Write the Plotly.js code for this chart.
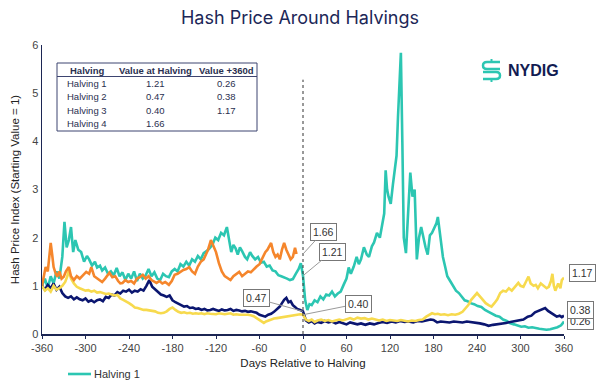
<!DOCTYPE html>
<html>
<head>
<meta charset="utf-8">
<script src="https://cdn.plot.ly/plotly-3.0.1.min.js"></script>
<style>html,body{margin:0;padding:0;background:#fff}#chart{width:600px;height:383px}</style>
</head>
<body>
<div id="chart"></div>
<script>
// ---------- DATA ----------
const seriesNames = ['Halving 1', 'Halving 2', 'Halving 3', 'Halving 4'];

const h1Days = [-360,-356,-352,-348,-344,-340,-336,-332,-329,-326,-323,-320,-317,-314,-310,-306,-302,-298,-295,-291,-287,-284,-280,-277,-273,-269,-265,-261,-257,-253,-249,-245,-241,-237,-233,-229,-225,-221,-217,-213,-209,-205,-201,-197,-193,-189,-185,-181,-177,-173,-169,-165,-161,-157,-153,-149,-145,-141,-137,-133,-129,-125,-121,-117,-113,-109,-105,-102,-99,-96,-93,-90,-87,-84,-80,-77,-73,-70,-66,-62,-58,-54,-50,-46,-42,-38,-34,-30,-26,-22,-18,-14,-10,-6,-3,0,3,6,9,12,16,20,24,28,32,36,40,44,48,52,56,60,63,66,70,74,77,80,84,88,91,95,98,102,106,110,112,114,116,118,121,124,127,129,131,133,135,137,139,142,145,148,151,154,157,160,163,166,169,172,175,178,181,184,186,188,190,193,196,199,203,207,211,215,219,223,227,231,236,241,246,251,256,261,266,271,276,281,286,291,296,301,306,311,316,321,326,331,336,341,346,351,356,360];
const h1Vals = [1.0,1.15,0.95,1.2,1.05,1.3,1.15,1.6,2.33,1.8,1.95,2.22,1.7,1.95,1.75,1.7,1.5,1.62,1.55,1.42,1.5,1.38,1.42,1.32,1.38,1.25,1.3,1.22,1.37,1.2,1.28,1.12,1.25,1.15,1.3,1.1,1.25,1.15,1.22,1.35,1.2,1.28,1.15,1.12,1.25,1.2,1.18,1.3,1.35,1.3,1.45,1.4,1.5,1.42,1.55,1.5,1.62,1.55,1.68,1.72,1.78,1.85,2.0,1.95,2.1,2.05,2.22,1.95,1.7,1.85,1.78,1.65,1.8,1.72,1.6,1.55,1.7,1.62,1.55,1.6,1.48,1.5,1.4,1.42,1.32,1.3,1.22,1.2,1.18,1.15,1.12,1.14,1.25,1.35,1.47,1.21,0.7,0.5,0.62,0.6,0.7,0.66,0.78,0.72,0.82,0.8,0.88,0.78,0.84,0.88,1.02,1.15,1.38,1.25,1.4,1.6,1.45,1.55,1.8,1.65,1.6,1.82,1.9,2.1,2.0,2.3,2.5,3.4,3.0,2.85,2.7,3.1,3.47,3.7,4.5,5.2,5.84,4.0,2.0,1.68,2.4,3.35,2.85,3.0,1.55,2.0,2.22,2.0,1.8,1.65,2.05,2.1,2.2,2.3,2.43,2.2,1.95,1.6,1.4,1.2,1.1,1.0,0.9,0.85,0.78,0.7,0.68,0.64,0.62,0.58,0.56,0.5,0.46,0.42,0.38,0.36,0.3,0.27,0.22,0.2,0.17,0.15,0.16,0.13,0.14,0.12,0.11,0.1,0.09,0.1,0.12,0.14,0.18,0.26];

const h2Days = [-360,-356,-352,-348,-344,-340,-336,-332,-328,-324,-320,-316,-312,-308,-304,-300,-296,-292,-288,-284,-280,-276,-272,-268,-264,-260,-256,-252,-248,-244,-240,-236,-232,-228,-224,-220,-216,-212,-208,-204,-200,-196,-192,-188,-184,-180,-176,-172,-168,-164,-160,-156,-152,-148,-144,-140,-136,-132,-128,-124,-120,-116,-112,-108,-104,-100,-96,-92,-88,-84,-80,-76,-72,-68,-64,-60,-56,-52,-48,-44,-40,-36,-32,-29,-26,-23,-20,-17,-14,-11,-8,-4,0,4,8,12,16,20,25,30,35,40,45,50,55,60,65,70,75,80,86,92,98,104,110,116,122,128,134,140,146,152,158,164,170,176,180,185,190,196,202,208,214,220,226,232,238,244,250,256,262,268,274,280,286,292,298,304,310,315,320,325,330,334,338,342,346,350,354,357,360];
const h2Vals = [1.0,0.92,1.02,0.95,1.05,0.92,0.98,0.85,0.78,0.75,0.78,0.72,0.76,0.72,0.7,0.74,0.67,0.7,0.66,0.7,0.72,0.68,0.77,0.75,0.82,0.8,0.87,0.84,0.9,0.88,0.92,0.86,0.9,0.88,0.93,0.9,1.0,1.12,0.98,0.92,0.88,0.82,0.8,0.77,0.8,0.7,0.66,0.63,0.6,0.57,0.58,0.54,0.55,0.52,0.53,0.5,0.52,0.49,0.5,0.52,0.5,0.48,0.51,0.49,0.5,0.52,0.48,0.5,0.49,0.47,0.48,0.46,0.47,0.45,0.44,0.4,0.38,0.36,0.4,0.42,0.46,0.52,0.57,0.64,0.71,0.75,0.66,0.68,0.6,0.56,0.52,0.5,0.47,0.28,0.24,0.27,0.22,0.25,0.23,0.27,0.24,0.26,0.22,0.25,0.23,0.2,0.24,0.22,0.2,0.22,0.19,0.22,0.2,0.23,0.25,0.23,0.26,0.24,0.27,0.25,0.26,0.24,0.27,0.26,0.28,0.3,0.29,0.24,0.26,0.25,0.24,0.26,0.25,0.24,0.26,0.25,0.23,0.22,0.2,0.17,0.19,0.2,0.22,0.23,0.25,0.27,0.29,0.3,0.36,0.38,0.45,0.48,0.5,0.54,0.48,0.44,0.4,0.36,0.38,0.35,0.38];

const h3Days = [-360,-356,-352,-348,-344,-340,-336,-332,-328,-325,-323,-320,-316,-312,-308,-304,-300,-296,-292,-288,-284,-280,-276,-272,-268,-264,-260,-256,-252,-248,-244,-240,-236,-232,-228,-224,-220,-216,-212,-208,-204,-200,-196,-192,-188,-184,-180,-176,-172,-168,-164,-160,-156,-152,-148,-144,-140,-136,-132,-128,-124,-120,-116,-112,-108,-104,-100,-96,-92,-88,-84,-80,-76,-72,-68,-64,-60,-57,-54,-51,-48,-44,-40,-36,-32,-28,-24,-20,-16,-12,-8,-4,0,4,8,12,16,20,25,30,35,40,45,50,55,60,65,70,75,80,85,90,95,100,105,110,115,120,125,130,135,140,145,150,155,160,165,170,174,178,182,186,190,195,200,205,210,215,220,224,228,232,236,240,244,248,252,256,260,264,268,272,276,280,284,288,292,297,300,304,308,311,314,318,321,324,328,332,336,339,342,344,346,348,350,352,355,357,360];
const h3Vals = [1.0,0.9,0.95,0.88,1.0,0.92,0.95,1.0,1.08,1.2,1.33,1.15,1.05,0.98,0.95,0.92,0.9,0.91,0.88,0.9,0.86,0.87,0.85,0.83,0.84,0.82,0.8,0.81,0.74,0.71,0.68,0.64,0.6,0.55,0.54,0.52,0.5,0.5,0.49,0.48,0.47,0.44,0.43,0.44,0.47,0.52,0.55,0.5,0.46,0.44,0.45,0.43,0.44,0.42,0.43,0.42,0.43,0.41,0.43,0.42,0.42,0.41,0.43,0.42,0.41,0.42,0.43,0.4,0.41,0.4,0.4,0.41,0.4,0.39,0.37,0.33,0.29,0.25,0.23,0.26,0.28,0.3,0.32,0.33,0.34,0.36,0.37,0.38,0.39,0.4,0.41,0.41,0.4,0.3,0.27,0.3,0.25,0.28,0.3,0.27,0.29,0.26,0.28,0.3,0.28,0.31,0.33,0.3,0.34,0.32,0.33,0.3,0.32,0.3,0.28,0.3,0.27,0.29,0.28,0.27,0.29,0.28,0.26,0.28,0.27,0.29,0.3,0.36,0.4,0.43,0.41,0.42,0.4,0.41,0.39,0.41,0.4,0.42,0.46,0.54,0.6,0.71,0.78,0.85,0.78,0.7,0.64,0.6,0.57,0.64,0.72,0.85,0.9,0.88,0.95,0.9,0.98,1.06,1.0,0.98,1.1,1.19,1.05,1.0,1.02,0.95,1.05,1.0,0.95,0.98,1.1,1.25,1.0,0.9,0.98,1.05,0.95,1.12,1.17];

const h4Days = [-360,-357,-355,-352,-350,-348,-346,-344,-341,-339,-336,-333,-330,-327,-323,-320,-316,-312,-308,-304,-299,-295,-292,-288,-284,-280,-277,-273,-270,-267,-263,-259,-255,-252,-249,-245,-241,-237,-233,-229,-225,-221,-217,-213,-209,-205,-202,-198,-194,-190,-185,-181,-177,-173,-169,-165,-161,-157,-153,-149,-145,-141,-137,-134,-131,-127,-124,-120,-116,-112,-108,-104,-100,-96,-92,-88,-84,-80,-76,-72,-68,-64,-60,-56,-52,-49,-46,-44,-41,-38,-35,-32,-29,-26,-23,-20,-17,-14,-11,-9];
const h4Vals = [1.0,1.2,1.39,1.3,1.6,1.89,1.65,1.39,1.25,1.19,1.3,1.15,1.19,1.3,1.39,1.2,1.12,1.2,1.15,1.22,1.29,1.25,1.39,1.2,1.15,1.12,1.08,1.15,1.2,1.27,1.18,1.2,1.1,1.05,1.06,1.12,1.08,1.1,1.05,1.15,1.18,1.23,1.15,1.2,1.12,1.08,1.06,1.1,1.05,1.08,1.02,1.1,1.23,1.25,1.3,1.33,1.35,1.39,1.3,1.25,1.4,1.5,1.55,1.65,1.75,1.95,1.85,1.7,1.47,1.3,1.2,1.15,1.12,1.2,1.25,1.29,1.2,1.25,1.3,1.28,1.35,1.4,1.45,1.58,1.7,1.75,1.85,1.89,1.7,1.6,1.65,1.55,1.75,1.89,1.75,1.65,1.55,1.6,1.79,1.66];

// Table
const tblHeader = ['Halving', 'Value at Halving', 'Value +360d'];
const tblHalving = ['Halving 1', 'Halving 2', 'Halving 3', 'Halving 4'];
const valueAtHalving = [1.21, 0.47, 0.40, 1.66];
const value360d = [0.26, 0.38, 1.17, null];

const xTicks = [-360,-300,-240,-180,-120,-60,0,60,120,180,240,300,360];

// ---------- STYLE / LAYOUT ----------
const colors = ['#2cc6b2', '#0b1670', '#f7da4e', '#f5862c'];
const W = 600, H = 383;
const M = {l: 42, r: 36, t: 45, b: 49};
const PW = W - M.l - M.r, PH = H - M.t - M.b;
const px = x => (x - M.l) / PW;
const py = y => (M.t + PH - y) / PH;
const font = '"Liberation Sans", Arial, sans-serif';

const dayArrays = [h1Days, h2Days, h3Days, h4Days];
const valArrays = [h1Vals, h2Vals, h3Vals, h4Vals];
const traces = seriesNames.map((n, i) => ({
  type: 'scatter', mode: 'lines', name: n,
  x: dayArrays[i], y: valArrays[i],
  line: {color: colors[i], width: 2.6},
  showlegend: false, hoverinfo: 'skip', cliponaxis: false
}));

const shapes = [];
const annotations = [];

// vertical halving line
shapes.push({type: 'line', xref: 'x', yref: 'y', x0: 0, x1: 0, y0: 0, y1: 5.28,
  line: {color: '#333', width: 1, dash: 'dot'}});

// table box
const tbL = 57, tbR = 257, tbT = 63, tbB = 131;
shapes.push({type: 'rect', xref: 'paper', yref: 'paper', x0: px(tbL), x1: px(tbR), y0: py(tbB), y1: py(tbT),
  line: {color: '#3d4470', width: 1}, fillcolor: 'rgba(255,255,255,0)'});
shapes.push({type: 'line', xref: 'paper', yref: 'paper', x0: px(tbL), x1: px(tbR), y0: py(76.5), y1: py(76.5),
  line: {color: '#3d4470', width: 1}});
const colX = [87, 155, 226];
const rowY = [70, 83, 96, 110, 124];
tblHeader.forEach((t, j) => annotations.push({xref: 'paper', yref: 'paper', x: px(colX[j]), y: py(rowY[0]),
  xanchor: 'center', yanchor: 'middle',
  text: '<b>' + t + '</b>', showarrow: false, font: {family: font, size: 9.5, color: '#2a2f4f'}}));
tblHalving.forEach((h, r) => {
  const cells = [h, valueAtHalving[r] == null ? '' : valueAtHalving[r].toFixed(2),
                 value360d[r] == null ? '' : value360d[r].toFixed(2)];
  cells.forEach((c, j) => { if (c) annotations.push({xref: 'paper', yref: 'paper', x: px(colX[j]), y: py(rowY[r + 1]),
    xanchor: 'center', yanchor: 'middle',
    text: c, showarrow: false, font: {family: font, size: 9.5, color: '#2a2f4f'}}); });
});

// value labels at halving (day 0)
const atOffsets = [[29, -24], [-47, -13], [55, -11], [20, -22]];
valueAtHalving.forEach((v, i) => annotations.push({
  x: 0, y: v, xref: 'x', yref: 'y', text: v.toFixed(2), showarrow: true, arrowhead: 0,
  arrowcolor: '#9a9a9a', arrowwidth: 1, ax: atOffsets[i][0], ay: atOffsets[i][1],
  bgcolor: '#fff', bordercolor: '#777', borderwidth: 1, borderpad: 2,
  font: {family: font, size: 10.5, color: '#333'}}));
// value labels at +360d
const endOffsets = [[16, 0], [16, 6], [18, 5]];
value360d.forEach((v, i) => { if (v == null) return; annotations.push({
  x: 360, y: v, xref: 'x', yref: 'y', text: v.toFixed(2), showarrow: false,
  xanchor: 'center', yanchor: 'middle',
  xshift: endOffsets[i][0], yshift: endOffsets[i][1],
  bgcolor: '#fff', bordercolor: '#777', borderwidth: 1, borderpad: 2,
  font: {family: font, size: 10.5, color: '#333'}}); });

// NYDIG logo
const teal = '#2cc6b2';
shapes.push({type: 'path', xref: 'paper', yref: 'paper',
  path: `M ${px(500)} ${py(62)} L ${px(487)} ${py(62)} Q ${px(483)} ${py(62)} ${px(483)} ${py(65.5)} Q ${px(483)} ${py(69)} ${px(487)} ${py(69)} L ${px(500)} ${py(69)}`,
  line: {color: teal, width: 2.5}});
shapes.push({type: 'path', xref: 'paper', yref: 'paper',
  path: `M ${px(483)} ${py(72)} L ${px(496)} ${py(72)} Q ${px(500)} ${py(72)} ${px(500)} ${py(75.5)} Q ${px(500)} ${py(79)} ${px(496)} ${py(79)} L ${px(483)} ${py(79)}`,
  line: {color: teal, width: 2.5}});
shapes.push({type: 'line', xref: 'paper', yref: 'paper', x0: px(491.5), x1: px(491.5), y0: py(59), y1: py(62),
  line: {color: teal, width: 2}});
shapes.push({type: 'line', xref: 'paper', yref: 'paper', x0: px(491.5), x1: px(491.5), y0: py(79), y1: py(82),
  line: {color: teal, width: 2}});
annotations.push({xref: 'paper', yref: 'paper', x: px(506), y: py(70.5), xanchor: 'left', yanchor: 'middle',
  text: '<b>NYDIG</b>', showarrow: false, font: {family: font, size: 16, color: '#121c52'}});

// manual legend (only first entry visible, as in reference)
shapes.push({type: 'line', xref: 'paper', yref: 'paper', x0: px(68), x1: px(91), y0: py(374), y1: py(374),
  line: {color: colors[0], width: 2.6}});
annotations.push({xref: 'paper', yref: 'paper', x: px(92), y: py(374), xanchor: 'left', yanchor: 'middle',
  text: seriesNames[0], showarrow: false, font: {family: font, size: 11, color: '#333'}});

const layout = {
  width: W, height: H, margin: M,
  paper_bgcolor: '#fff', plot_bgcolor: '#fff',
  font: {family: font, size: 11, color: '#333'},
  title: {text: 'Hash Price Around Halvings', x: 0.5, xanchor: 'center', y: 0.955, yanchor: 'middle',
    font: {family: 'Inter, "Open Sans", sans-serif', size: 18, color: '#1c2757'}},
  xaxis: {range: [-360, 360], tickvals: xTicks, ticktext: xTicks.map(String), automargin: false,
    showgrid: false, zeroline: false, showline: true, linecolor: '#1c2654', linewidth: 1.5,
    ticks: 'outside', ticklen: 3, tickcolor: '#1c2654', tickfont: {size: 11, color: '#444'},
    title: {text: 'Days Relative to Halving', font: {size: 11.5, color: '#222'}, standoff: 6}},
  yaxis: {range: [0, 6], dtick: 1, showgrid: false, zeroline: false, showline: true, automargin: false,
    linecolor: '#1c2654', linewidth: 1.5, ticks: '', tickfont: {size: 11, color: '#444'},
    title: {text: 'Hash Price Index (Starting Value = 1)', font: {size: 11.5, color: '#222'}, standoff: 10}},
  showlegend: false,
  shapes: shapes, annotations: annotations
};

Plotly.newPlot('chart', traces, layout, {displayModeBar: false, staticPlot: true});
</script>
</body>
</html>
